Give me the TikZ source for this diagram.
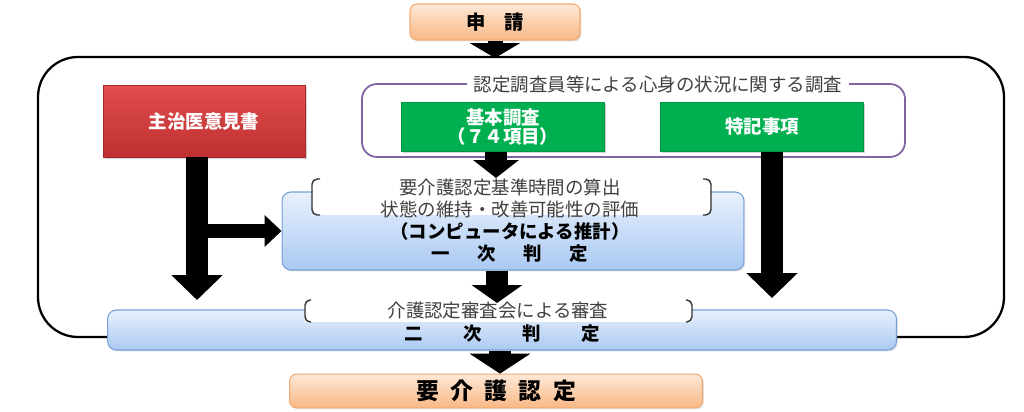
\documentclass[tikz,border=0pt]{standalone}
\usepackage{fontspec}
\setmainfont{Noto Sans CJK JP}
\usepackage{tikz}
\usetikzlibrary{arrows.meta,shadows}
\definecolor{textgris}{HTML}{404040}
\definecolor{morado}{HTML}{8064A2}
\definecolor{verde}{HTML}{00B050}
\newcommand{\tam}[1]{\fontsize{#1}{#1}\selectfont}
\tikzstyle{naranja} = [draw={rgb,255:red,244;green,170;blue,110}, top color={rgb,255:red,254;green,232;blue,214}, bottom color={rgb,255:red,249;green,184;blue,134}, rounded corners=4pt, line width=0.6pt, font=\bfseries\tam{11}, drop shadow={shadow xshift=0.8pt, shadow yshift=-0.8pt, opacity=0.25}]
\tikzstyle{azul} = [draw={rgb,255:red,120;green,160;blue,215}, top color={rgb,255:red,232;green,241;blue,252}, bottom color={rgb,255:red,170;green,201;blue,243}, rounded corners=5pt, line width=0.6pt, drop shadow={shadow xshift=0.8pt, shadow yshift=-0.8pt, opacity=0.25}]
\tikzstyle{rojo} = [draw={rgb,255:red,170;green,40;blue,40}, top color={rgb,255:red,224;green,78;blue,78}, bottom color={rgb,255:red,192;green,48;blue,48}, text=white, font=\bfseries\tam{10.5}, drop shadow={shadow xshift=1pt, shadow yshift=-1pt, opacity=0.35}]
\tikzstyle{cajaverde} = [draw=verde!85!black, fill=verde, text=white, font=\bfseries\tam{10.5}, align=center, drop shadow={shadow xshift=1pt, shadow yshift=-1pt, opacity=0.35}]
\tikzstyle{blanco} = [fill=white, text=textgris, font=\tam{10.5}]
\tikzstyle{corchete} = [draw=textgris!80!black, line width=0.8pt, rounded corners=3pt]
\tikzstyle{flecha} = [line width=0.44cm, -{Triangle[width=1cm, length=0.5cm]}]

\begin{document}
\begin{tikzpicture}[x=0.02cm, y=-0.02cm]
		\useasboundingbox (0,0) rectangle (1024,412);
		% marco exterior
		\draw[line width=1.3pt, rounded corners=0.8cm] (38,57) rectangle (1004,337);
		\node[naranja, minimum width=3.4cm, minimum height=0.72cm](solicitud) at (495,22) {申　請};
		\coordinate (marco) at (495,58);
		\draw[line width=0.3cm, -{Triangle[width=1cm, length=0.3cm]}] (solicitud.south) -- (marco);

		% investigacion
		\node[rojo, minimum width=4.04cm, minimum height=1.44cm](medico) at (204,121) {主治医意見書};
		\draw[morado, line width=1pt, rounded corners=0.3cm] (362,84) rectangle (905,157);
		\node[blanco, inner xsep=4pt](titulo) at (658,84) {認定調査員等による心身の状況に関する調査};
		\node[cajaverde, minimum width=4.06cm, minimum height=0.98cm, inner sep=1pt](basico) at (503,127) {基本調査\\（７４項目）};
		\node[cajaverde, minimum width=4.06cm, minimum height=0.98cm](especial) at (762,127) {特記事項};

		% primera
		\node[azul, minimum width=9.24cm, minimum height=1.56cm](primera) at (513,231) {};
		\fill[white] (313,178) rectangle (710,215);
		\draw[corchete] (320,179) -- (312,179) -- (312,215) -- (320,215);
		\draw[corchete] (703,179) -- (711,179) -- (711,215) -- (703,215);
		\node[text=textgris, font=\tam{10.5}, align=center](calculo) at (510,198) {要介護認定基準時間の算出\\[2pt]状態の維持・改善可能性の評価};
		\node[font=\bfseries\tam{10.5}, align=center](etiqueta1) at (510,242) {（コンピュータによる推計）\\[2pt]一\hspace{1.5em}次\hspace{1.5em}判\hspace{1.5em}定};

		% segunda
		\node[azul, minimum width=15.78cm, minimum height=0.8cm](segunda) at (502,330) {};
		\fill[white] (305,300) rectangle (692,322);
		\draw[corchete] (311,300) -- (305,300) -- (305,322) -- (311,322);
		\draw[corchete] (686,300) -- (692,300) -- (692,322) -- (686,322);
		\node[text=textgris, font=\tam{10.5}](consejo) at (498,311) {介護認定審査会による審査};
		\node[font=\bfseries\tam{10.5}](etiqueta2) at (502,334) {二\hspace{2.2em}次\hspace{2.2em}判\hspace{2.2em}定};

		\node[naranja, minimum width=8.26cm, minimum height=0.66cm, font=\bfseries\tam{13}](resultado) at (496,391) {要\hspace{0.5em}介\hspace{0.5em}護\hspace{0.5em}認\hspace{0.5em}定};

		% flechas
		\coordinate (puntaA) at (197,300);
		\coordinate (puntaB) at (772,298);
		\draw[flecha] (medico.south -| puntaA) -- (puntaA);
		\draw[line width=0.28cm, -{Triangle[width=0.62cm, length=0.34cm]}] (puntaA |- primera.west) -- (primera.west);
		\draw[flecha] (especial.south -| puntaB) -- (puntaB);
		\draw[line width=0.44cm, -{Triangle[width=0.9cm, length=0.36cm]}] (basico.south -| 496,0) -- (496,178);
		\draw[line width=0.44cm, -{Triangle[width=1cm, length=0.36cm]}] (primera.south -| 497,0) -- (497,303);
		\draw[line width=0.44cm, -{Triangle[width=1.2cm, length=0.4cm]}] (segunda.south -| 500,0) -- (resultado.north -| 500,0);
	\end{tikzpicture}
\end{document}
